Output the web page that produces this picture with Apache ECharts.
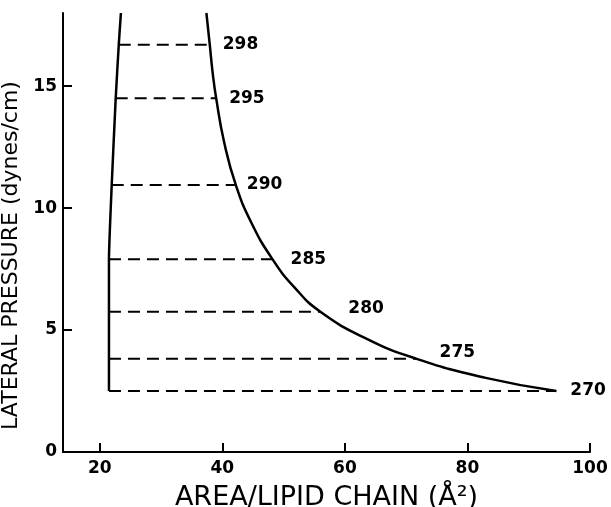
<!DOCTYPE html>
<html>
<head>
<meta charset="utf-8">
<script src="https://cdn.jsdelivr.net/npm/echarts@6/dist/echarts.min.js"></script>
<style>html,body{margin:0;padding:0;background:#fff;}#c{width:611px;height:507px;}</style>
</head>
<body>
<div id="c"></div>
<script>
// Temperatures (K) of the isotherms and their lateral pressures
const temps = [270, 275, 280, 285, 290, 295, 298];
const pressures = [2.5, 3.82, 5.75, 7.9, 10.95, 14.5, 16.7];
// Area at the left (condensed) boundary and right (fluid) boundary for each isotherm
const leftEdge = [21.5, 21.5, 21.5, 21.5, 21.95, 22.6, 23.1];
const rightEdge = [94.5, 71.7, 56.0, 48.2, 42.2, 39.0, 37.95];
// Left boundary curve
const leftCurveX = [21.5, 21.5, 21.95, 22.6, 23.1, 23.45];
const leftCurveY = [2.5, 7.9, 10.95, 14.5, 16.7, 18.0];
// Right boundary curve
const rightCurveX = [37.4, 37.95, 38.4, 39.0, 40.29, 42.2, 44.8, 48.2, 51.77, 56.0, 63.57, 71.7, 82.98, 94.5];
const rightCurveY = [18.0, 16.7, 15.6, 14.5, 12.71, 10.95, 9.37, 7.9, 6.75, 5.75, 4.64, 3.82, 3.04, 2.5];
// Axis ticks
const xTicks = [20, 40, 60, 80, 100];
const yTicks = [0, 5, 10, 15];

const labelOffsets = [[14, 0], [23, -6], [28, -3], [18, 0], [11, 0], [13, 0], [13, 0]];
const FONT = 'DejaVu Sans';

const series = [
  {
    type: 'line', data: leftCurveX.map((x, i) => [x, leftCurveY[i]]),
    smooth: 0.15, symbol: 'none', lineStyle: {color: '#000', width: 2.5}, silent: true
  },
  {
    type: 'line', data: rightCurveX.map((x, i) => [x, rightCurveY[i]]),
    smooth: 0.5, symbol: 'none', lineStyle: {color: '#000', width: 2.5}, silent: true
  }
];
temps.forEach((t, i) => {
  series.push({
    type: 'line',
    data: [[leftEdge[i], pressures[i]], [rightEdge[i], pressures[i]]],
    symbol: 'none',
    lineStyle: {color: '#000', width: 2, type: [12, 7]},
    endLabel: {
      show: true, formatter: String(t), color: '#000',
      fontFamily: FONT, fontSize: 17, fontWeight: 'bold',
      distance: labelOffsets[i][0], offset: [0, labelOffsets[i][1]]
    },
    silent: true
  });
});

const chart = echarts.init(document.getElementById('c'), null, {renderer: 'canvas'});
chart.setOption({
  animation: false,
  backgroundColor: '#fff',
  grid: {left: 63, right: 21, top: 13, bottom: 55, containLabel: false, outerBoundsMode: 'none'},
  xAxis: {
    type: 'value', min: 14, max: 100,
    name: 'AREA/LIPID CHAIN (Å²)', nameLocation: 'middle', nameGap: 32,
    nameTextStyle: {fontFamily: FONT, fontSize: 27, color: '#000'},
    axisLine: {lineStyle: {color: '#000', width: 2}},
    axisTick: {show: true, inside: true, length: 9, lineStyle: {color: '#000', width: 2}, customValues: xTicks},
    axisLabel: {customValues: xTicks, color: '#000', fontFamily: FONT, fontSize: 17, fontWeight: 'bold', margin: 8},
    splitLine: {show: false}
  },
  yAxis: {
    type: 'value', min: 0, max: 18,
    name: 'LATERAL PRESSURE (dynes/cm)', nameLocation: 'middle', nameGap: 31,
    nameTextStyle: {fontFamily: FONT, fontSize: 22, color: '#000', padding: [0, 46, 0, 0]},
    axisLine: {lineStyle: {color: '#000', width: 2}},
    axisTick: {show: true, inside: true, length: 9, lineStyle: {color: '#000', width: 2}, customValues: [5, 10, 15]},
    axisLabel: {customValues: yTicks, color: '#000', fontFamily: FONT, fontSize: 17, fontWeight: 'bold', margin: 6},
    splitLine: {show: false}
  },
  series: series
});
</script>
</body>
</html>
